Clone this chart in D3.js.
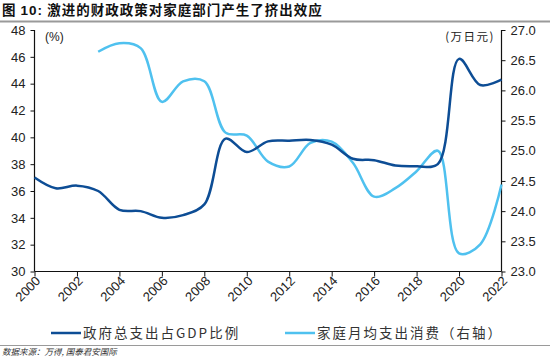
<!DOCTYPE html>
<html>
<head>
<meta charset="utf-8">
<script src="https://cdn.jsdelivr.net/npm/d3@7"></script>
<style>
  body { margin: 0; background: #fff; }
  svg { display: block; }
</style>
</head>
<body>
<div id="wrapper"></div>
<script>
// data
const years = [2000, 2001, 2002, 2003, 2004, 2005, 2006, 2007, 2008, 2009, 2010, 2011,
               2012, 2013, 2014, 2015, 2016, 2017, 2018, 2019, 2020, 2021, 2022];
const govSpending = [37.0, 36.2, 36.4, 36.0, 34.6, 34.5, 34.0, 34.2, 35.0, 39.9, 38.9, 39.7,
                     39.75, 39.8, 39.45, 38.4, 38.3, 37.9, 37.85, 38.0, 45.85, 43.9, 44.3];
const consumptionYears = [2003, 2004, 2005, 2006, 2007, 2008, 2009, 2010, 2011, 2012,
                          2013, 2014, 2015, 2016, 2017, 2018, 2019, 2020, 2021, 2022];
const consumption = [26.64, 26.78, 26.7, 25.81, 26.15, 26.15, 25.3, 25.25, 24.82, 24.74,
                     25.13, 25.15, 24.8, 24.24, 24.38, 24.66, 25.0, 23.3, 23.45, 24.44];
const leftTicks = [30, 32, 34, 36, 38, 40, 42, 44, 46, 48];
const rightTicks = [23.0, 23.5, 24.0, 24.5, 25.0, 25.5, 26.0, 26.5, 27.0];
const xTicks = [2000, 2002, 2004, 2006, 2008, 2010, 2012, 2014, 2016, 2018, 2020, 2022];
const seriesNames = ["政府总支出占GDP比例", "家庭月均支出消费（右轴）"];

const darkBlue = "#0d4d95";
const lightBlue = "#4fc1ef";
const textColor = "#222";
const numFont = "'Liberation Sans', Arial, sans-serif";
const cjkFont = "'Noto Sans CJK SC', sans-serif";

const width = 550, height = 358;
const plot = { left: 34.5, right: 501.5, top: 30, bottom: 271.5 };

const svg = d3.select("#wrapper").append("svg")
    .attr("width", width)
    .attr("height", height);

// title and rules
const title = svg.append("text")
    .attr("x", 2).attr("y", 15)
    .attr("font-family", cjkFont)
    .attr("font-weight", "bold")
    .attr("font-size", 13.5)
    .attr("letter-spacing", 1)
    .attr("fill", "#111");
title.append("tspan").text("图 ");
title.append("tspan").attr("font-family", numFont).text("10:");
title.append("tspan").text(" 激进的财政政策对家庭部门产生了挤出效应");
svg.append("line")
    .attr("x1", 0).attr("x2", width)
    .attr("y1", 21.5).attr("y2", 21.5)
    .attr("stroke", "#9a9a9a").attr("stroke-width", 2);
svg.append("line")
    .attr("x1", 0).attr("x2", width)
    .attr("y1", 345.5).attr("y2", 345.5)
    .attr("stroke", "#9a9a9a").attr("stroke-width", 1);
svg.append("text")
    .attr("x", 2).attr("y", 355)
    .attr("font-family", cjkFont)
    .attr("font-style", "italic")
    .attr("font-size", 8.5)
    .attr("fill", "#333")
    .text("数据来源：万得, 国泰君安国际");

// scales
const xScale = d3.scaleLinear()
    .domain([2000, 2022])
    .range([plot.left, plot.right]);
const yLeft = d3.scaleLinear()
    .domain([30, 48])
    .range([plot.bottom, plot.top]);
const yRight = d3.scaleLinear()
    .domain([23, 27])
    .range([plot.bottom, plot.top]);

// axes
const leftAxis = svg.append("g")
    .attr("transform", `translate(${plot.left},0)`)
    .call(d3.axisLeft(yLeft).tickValues(leftTicks).tickSize(4).tickPadding(5));
const rightAxis = svg.append("g")
    .attr("transform", `translate(${plot.right},0)`)
    .call(d3.axisRight(yRight).tickValues(rightTicks).tickSize(4).tickPadding(5)
        .tickFormat(d3.format(".1f")));
const xAxis = svg.append("g")
    .attr("transform", `translate(0,${plot.bottom})`)
    .call(d3.axisBottom(xScale).tickValues(xTicks).tickSize(5).tickFormat(d3.format("d")));

[leftAxis, rightAxis, xAxis].forEach(g => {
    g.select(".domain").attr("stroke", "#111").attr("stroke-width", 1.2);
    g.selectAll(".tick line").attr("stroke", "#111");
    g.selectAll("text")
        .attr("font-family", numFont)
        .attr("font-size", 13)
        .attr("fill", textColor);
});
leftAxis.select(".domain").attr("d", `M0,${plot.top}V${plot.bottom}`);
rightAxis.select(".domain").attr("d", `M0,${plot.top}V${plot.bottom}`);
xAxis.select(".domain").attr("d", `M${plot.left},0H${plot.right}`);

xAxis.selectAll("text")
    .attr("text-anchor", "end")
    .attr("dy", "0.35em")
    .attr("transform", "translate(3,7) rotate(-45)")
    .attr("y", 0).attr("x", 0);

// unit labels
svg.append("text")
    .attr("x", 45).attr("y", 41)
    .attr("font-family", numFont)
    .attr("font-size", 12)
    .attr("fill", textColor)
    .text("(%)");
svg.append("text")
    .attr("x", 495).attr("y", 41)
    .attr("text-anchor", "end")
    .attr("font-family", cjkFont)
    .attr("font-size", 11.5)
    .attr("letter-spacing", 1.5)
    .attr("fill", textColor)
    .text("(万日元)");

// lines
const govLine = d3.line()
    .x((d, i) => xScale(years[i]))
    .y(d => yLeft(d))
    .curve(d3.curveCatmullRom.alpha(0.5));
const consLine = d3.line()
    .x((d, i) => xScale(consumptionYears[i]))
    .y(d => yRight(d))
    .curve(d3.curveCatmullRom.alpha(0.5));

svg.append("path")
    .attr("d", consLine(consumption))
    .attr("fill", "none")
    .attr("stroke", lightBlue)
    .attr("stroke-width", 2.5);
svg.append("path")
    .attr("d", govLine(govSpending))
    .attr("fill", "none")
    .attr("stroke", darkBlue)
    .attr("stroke-width", 2.5);

// legend
const legend = svg.append("g").attr("transform", "translate(0,333)");
const legendItems = [
    { x: 51, color: darkBlue, name: seriesNames[0] },
    { x: 285, color: lightBlue, name: seriesNames[1] }
];
legendItems.forEach(item => {
    legend.append("line")
        .attr("x1", item.x).attr("x2", item.x + 30)
        .attr("y1", 0).attr("y2", 0)
        .attr("stroke", item.color).attr("stroke-width", 2.5);
    legend.append("text")
        .attr("x", item.x + 32).attr("y", 5)
        .attr("font-family", cjkFont)
        .attr("font-size", 13.5)
        .attr("letter-spacing", 2)
        .attr("fill", "#333")
        .text(item.name);
});
</script>
</body>
</html>
